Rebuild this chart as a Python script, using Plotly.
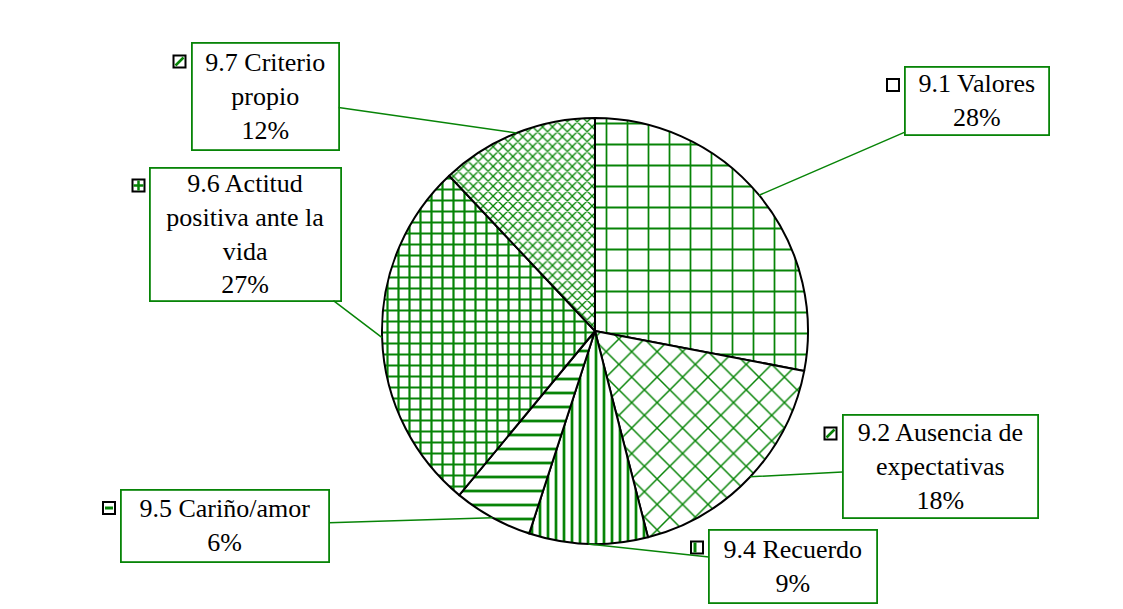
import math
import plotly.graph_objects as go

W, H = 1115, 601   # page adds an 8px body margin
OFF = 8

labels = ["9.1 Valores", "9.2 Ausencia de expectativas", "9.4 Recuerdo",
          "9.5 Cariño/amor", "9.6 Actitud positiva ante la vida", "9.7 Criterio propio"]
values = [28, 18, 9, 6, 27, 12]
box_texts = ["9.1 Valores<br>28%", "9.2 Ausencia de<br>expectativas<br>18%", "9.4 Recuerdo<br>9%",
             "9.5 Cariño/amor<br>6%", "9.6 Actitud<br>positiva ante la<br>vida<br>27%",
             "9.7 Criterio<br>propio<br>12%"]

green = "#078407"
shapes_pat = ["+", "x", "|", "-", "+", "x"]
sizes_pat = [21, 18, 8, 14, 11, 7]
solid_pat = [0.16, 0.16, 0.34, 0.2, 0.36, 0.34]

# pie geometry (page pixels)
cx, cy, r = 595, 331, 213

# label box centres / sizes (page pixels)
boxes = [(977, 101, 142, 66), (940, 467, 193, 101), (793, 566, 166, 71),
         (225, 526, 206, 70), (246, 234, 189, 131), (265, 97, 145, 105)]


def px(x):
    return (x - OFF) / W


def py(y):
    return 1 - (y - OFF) / H


fig = go.Figure()
fig.add_trace(go.Pie(
    labels=labels, values=values, sort=False, direction="clockwise", rotation=0,
    textinfo="none", hoverinfo="label+percent", showlegend=False,
    domain=dict(x=[px(cx - r), px(cx + r)], y=[py(cy + r), py(cy - r)]),
    marker=dict(colors=["white"] * 6, line=dict(color="black", width=2),
                pattern=dict(shape=shapes_pat, fgcolor=green, bgcolor="white", fgopacity=1,
                             size=sizes_pat, solidity=solid_pat, fillmode="overlay")),
))

annotations = []
shapes = []
total = sum(values)
cum = 0
for i, v in enumerate(values):
    mid = (cum + v / 2) / total * 2 * math.pi
    cum += v
    tx = cx + r * math.sin(mid)
    ty = cy - r * math.cos(mid)
    bx, by, bw, bh = boxes[i]
    annotations.append(dict(
        x=px(tx), y=py(ty), xref="paper", yref="paper",
        ax=bx - tx, ay=by - ty, axref="pixel", ayref="pixel",
        text=box_texts[i], showarrow=True, arrowhead=0, arrowwidth=1.5, arrowcolor=green,
        bordercolor=green, borderwidth=1.8, borderpad=0, bgcolor="white",
        width=bw, height=bh, align="center", valign="middle",
        font=dict(family="Liberation Serif", size=26, color="black"),
    ))
    # legend key square
    kx = bx - bw / 2 - 19
    ky = by - bh / 2 + 17
    shapes.append(dict(type="rect", xref="paper", yref="paper",
                       x0=px(kx), x1=px(kx + 12), y0=py(ky + 6), y1=py(ky - 6),
                       line=dict(color="black", width=2), fillcolor="white"))
    if i in (1, 5):
        shapes.append(dict(type="line", xref="paper", yref="paper",
                           x0=px(kx + 2), x1=px(kx + 10), y0=py(ky + 4), y1=py(ky - 4),
                           line=dict(color=green, width=2.5)))
    elif i == 2:
        shapes.append(dict(type="line", xref="paper", yref="paper",
                           x0=px(kx + 4), x1=px(kx + 4), y0=py(ky + 5), y1=py(ky - 5),
                           line=dict(color=green, width=3)))
    elif i == 3:
        shapes.append(dict(type="line", xref="paper", yref="paper",
                           x0=px(kx + 2), x1=px(kx + 10), y0=py(ky), y1=py(ky),
                           line=dict(color=green, width=3)))
    elif i == 4:
        shapes.append(dict(type="line", xref="paper", yref="paper",
                           x0=px(kx + 1), x1=px(kx + 11), y0=py(ky), y1=py(ky),
                           line=dict(color=green, width=2.5)))
        shapes.append(dict(type="line", xref="paper", yref="paper",
                           x0=px(kx + 6), x1=px(kx + 6), y0=py(ky + 5), y1=py(ky - 5),
                           line=dict(color=green, width=2.5)))

fig.update_layout(
    width=W, height=H, margin=dict(l=0, r=0, t=0, b=0),
    paper_bgcolor="white", plot_bgcolor="white",
    annotations=annotations, shapes=shapes,
)

fig.write_html("out.html")
